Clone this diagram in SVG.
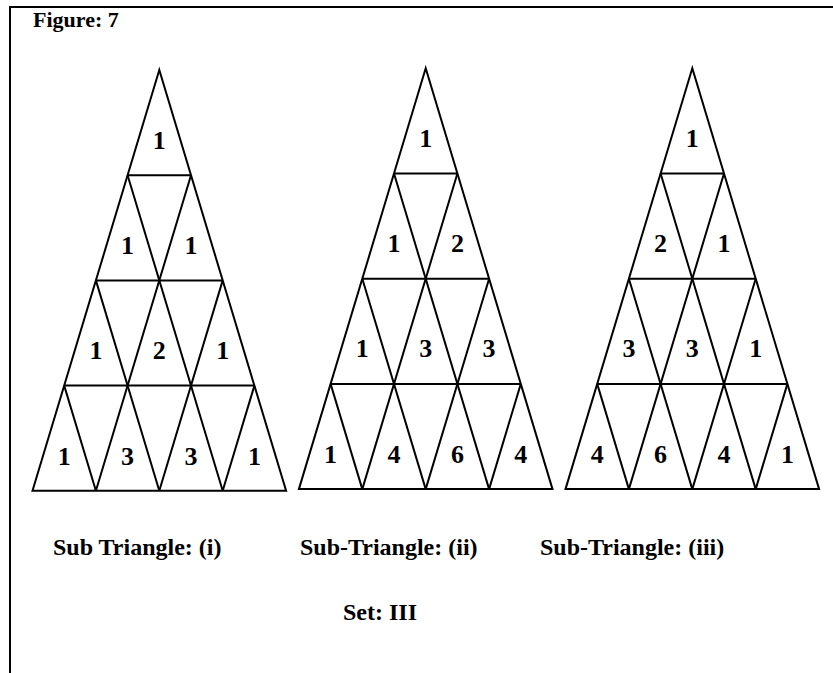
<svg xmlns="http://www.w3.org/2000/svg" xmlns:xlink="http://www.w3.org/1999/xlink" width="833" height="673" viewBox="0 0 833 673">
<style>
.ln{fill:none;stroke:#000;stroke-width:2;stroke-linejoin:miter}
.num{font-family:"Liberation Serif","Times New Roman",serif;font-weight:bold;font-size:26px;fill:#000;text-anchor:middle}
.lbl{font-family:"Liberation Serif","Times New Roman",serif;font-weight:bold;font-size:24px;fill:#000}
</style>
<defs>
<g id="grid" class="ln">
<path d="M0,0 L-126.8,420.8 L126.8,420.8 Z"/>
<path d="M-31.7,105.2 H31.7 M-63.4,210.4 H63.4 M-95.1,315.6 H95.1"/>
<path d="M-63.4,420.8 L31.7,105.2 M0,420.8 L63.4,210.4 M63.4,420.8 L95.1,315.6"/>
<path d="M63.4,420.8 L-31.7,105.2 M0,420.8 L-63.4,210.4 M-63.4,420.8 L-95.1,315.6"/>
</g>
</defs>
<rect width="833" height="673" fill="#fff"/>
<g id="frame" class="ln"><path d="M10,673 V7 H833"/></g>
<text id="title" class="lbl" x="33" y="27" style="font-size:22px">Figure: 7</text>
<g id="tri1" transform="translate(159.3,70)">
<use xlink:href="#grid"/>
<text class="num" x="0" y="79">1</text>
<text class="num" x="-31.7" y="184">1</text><text class="num" x="31.7" y="184">1</text>
<text class="num" x="-63.4" y="289">1</text><text class="num" x="0" y="289">2</text><text class="num" x="63.4" y="289">1</text>
<text class="num" x="-95.1" y="395">1</text><text class="num" x="-31.7" y="395">3</text><text class="num" x="31.7" y="395">3</text><text class="num" x="95.1" y="395">1</text>
</g>
<g id="tri2" transform="translate(425.7,68.3)">
<use xlink:href="#grid"/>
<text class="num" x="0" y="79">1</text>
<text class="num" x="-31.7" y="184">1</text><text class="num" x="31.7" y="184">2</text>
<text class="num" x="-63.4" y="289">1</text><text class="num" x="0" y="289">3</text><text class="num" x="63.4" y="289">3</text>
<text class="num" x="-95.1" y="395">1</text><text class="num" x="-31.7" y="395">4</text><text class="num" x="31.7" y="395">6</text><text class="num" x="95.1" y="395">4</text>
</g>
<g id="tri3" transform="translate(692.3,68.3)">
<use xlink:href="#grid"/>
<text class="num" x="0" y="79">1</text>
<text class="num" x="-31.7" y="184">2</text><text class="num" x="31.7" y="184">1</text>
<text class="num" x="-63.4" y="289">3</text><text class="num" x="0" y="289">3</text><text class="num" x="63.4" y="289">1</text>
<text class="num" x="-95.1" y="395">4</text><text class="num" x="-31.7" y="395">6</text><text class="num" x="31.7" y="395">4</text><text class="num" x="95.1" y="395">1</text>
</g>
<g id="captions">
<text class="lbl" x="53" y="555">Sub Triangle: (i)</text>
<text class="lbl" x="300" y="555">Sub-Triangle: (ii)</text>
<text class="lbl" x="540" y="555">Sub-Triangle: (iii)</text>
<text class="lbl" x="343" y="620">Set: III</text>
</g>
</svg>
